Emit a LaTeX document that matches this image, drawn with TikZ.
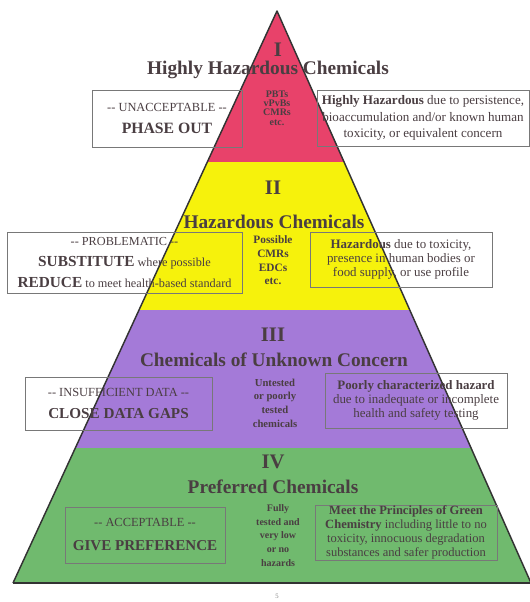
\documentclass[tikz,border=0pt]{standalone}
\usepackage{fontspec}
\setmainfont{Liberation Serif}
\usetikzlibrary{calc}
\definecolor{tierred}{RGB}{232,66,106}
\definecolor{tieryellow}{RGB}{246,242,12}
\definecolor{tierpurple}{RGB}{164,122,216}
\definecolor{tiergreen}{RGB}{112,186,110}
\definecolor{ink}{RGB}{74,62,66}
\definecolor{boxline}{RGB}{120,120,120}
\newcommand{\dd}{-{}-}
\tikzset{
every node/.append style={text=ink, inner sep=0pt},
numeral/.style={font=\fontsize{15.5}{15}\selectfont\bfseries},
title/.style={font=\fontsize{14.5}{15}\selectfont\bfseries},
sidebox/.style 2 args={draw=boxline, line width=0.7pt, align=center,
    minimum width=#1*0.75pt, minimum height=#2*0.75pt},
note/.style={align=center, font=\fontsize{8.5}{10.3}\selectfont\bfseries},
edge/.style={draw=black!80, line width=1.1pt, line join=round},
}

\begin{document}
\begin{tikzpicture}[x=0.75pt, y=-0.75pt]
            \useasboundingbox (0,0) rectangle (530,602);
            \coordinate (apex) at (277,11);
            \coordinate (bl) at (13,583);
            \coordinate (br) at (531,583);

            % Bands of the pyramid
            \fill[tierred] (apex) -- ($(apex)!0.264!(bl)$) -- ($(apex)!0.264!(br)$) -- cycle;
            \fill[tieryellow] ($(apex)!0.264!(bl)$) -- ($(apex)!0.523!(bl)$) -- ($(apex)!0.523!(br)$) -- ($(apex)!0.264!(br)$) -- cycle;
            \fill[tierpurple] ($(apex)!0.523!(bl)$) -- ($(apex)!0.764!(bl)$) -- ($(apex)!0.764!(br)$) -- ($(apex)!0.523!(br)$) -- cycle;
            \fill[tiergreen] ($(apex)!0.764!(bl)$) -- (bl) -- (br) -- ($(apex)!0.764!(br)$) -- cycle;
            \draw[edge] (bl) -- (apex) -- (br);
            \draw[edge, line width=1.6pt] (bl) -- (br);

            % Tier I
            \node[numeral] (num1) at (278,50) {I};
            \node[title] (tit1) at (268,70) {Highly Hazardous Chemicals};
            \node[sidebox={150}{57}, font=\fontsize{9.3}{17}\selectfont] (lb1) at (167,118.5)
                {\dd{} UNACCEPTABLE \dd\\{\fontsize{11.8}{12}\selectfont\bfseries PHASE OUT}};
            \node[note, font=\fontsize{7.5}{7}\selectfont\bfseries] (mid1) at (277,108) {PBTs\\vPvBs\\CMRs\\etc.};
            \node[sidebox={212}{56}, font=\fontsize{9.8}{12.4}\selectfont] (rb1) at (423,118)
                {\textbf{Highly Hazardous} due to persistence,\\bioaccumulation and/or known human\\toxicity, or equivalent concern};

            % Tier II
            \node[numeral] (num2) at (273,188) {II};
            \node[title] (tit2) at (274,222) {Hazardous Chemicals};
            \node[sidebox={235}{61}, font=\fontsize{9.2}{15.8}\selectfont] (lb2) at (124.5,262.5)
                {\dd{} PROBLEMATIC \dd\\{\fontsize{11.5}{12}\selectfont\bfseries SUBSTITUTE} where possible\\{\fontsize{11.5}{12}\selectfont\bfseries REDUCE} to meet health-based standard};
            \node[note] (mid2) at (273,260.5) {Possible\\CMRs\\EDCs\\etc.};
            \node[sidebox={182}{55}, font=\fontsize{9.7}{10.5}\selectfont] (rb2) at (401,259.5)
                {\textbf{Hazardous} due to toxicity,\\presence in human bodies or\\food supply, or use profile};

            % Tier III
            \node[numeral] (num3) at (273,335) {III};
            \node[title] (tit3) at (274,360) {Chemicals of Unknown Concern};
            \node[sidebox={187}{53}, font=\fontsize{9.3}{17}\selectfont] (lb3) at (118.5,403.5)
                {\dd{} INSUFFICIENT DATA \dd\\{\fontsize{11.4}{12}\selectfont\bfseries CLOSE DATA GAPS}};
            \node[note, font=\fontsize{8}{10.3}\selectfont\bfseries] (mid3) at (275,403) {Untested\\or poorly\\tested\\chemicals};
            \node[sidebox={182}{55}, font=\fontsize{9.7}{10.5}\selectfont] (rb3) at (416,400.5)
                {\textbf{Poorly characterized hazard}\\due to inadequate or incomplete\\health and safety testing};

            % Tier IV
            \node[numeral] (num4) at (273,462) {IV};
            \node[title] (tit4) at (273,487) {Preferred Chemicals};
            \node[sidebox={160}{56}, font=\fontsize{9.3}{18}\selectfont] (lb4) at (145,535)
                {\dd{} ACCEPTABLE \dd\\{\fontsize{11.3}{12}\selectfont\bfseries GIVE PREFERENCE}};
            \node[note, font=\fontsize{7.5}{10.3}\selectfont\bfseries] (mid4) at (278,535.5) {Fully\\tested and\\very low\\or no\\hazards};
            \node[sidebox={182}{55}, font=\fontsize{9.4}{10.3}\selectfont] (rb4) at (406,532.5)
                {\textbf{Meet the Principles of Green}\\\textbf{Chemistry} including little to no\\toxicity, innocuous degradation\\substances and safer production};

            \node[font=\fontsize{5}{5}\selectfont, text=black!50] (page) at (277,596) {5};
\end{tikzpicture}
\end{document}
